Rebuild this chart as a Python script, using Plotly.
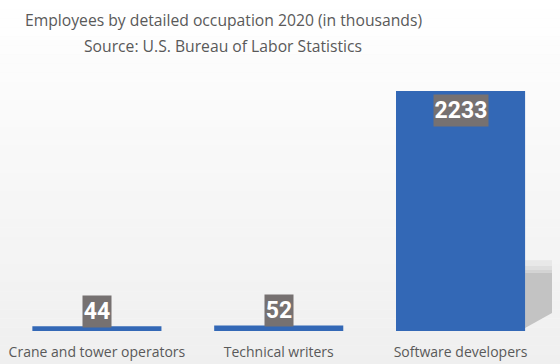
import plotly.graph_objects as go

categories = ["Crane and tower operators", "Technical writers", "Software developers"]
values = [44, 52, 2233]
title_line1 = "Employees by detailed occupation 2020 (in thousands)"
title_line2 = "Source: U.S. Bureau of Labor Statistics"

W, H = 560, 364
ML, MR, MT, MB = 6, 8, 60, 33
plot_h = H - MT - MB


def py(Y):
    # convert pixel y (from top) to paper coordinate
    return (H - MB - Y) / plot_h


fig = go.Figure()
fig.add_trace(go.Bar(
    x=categories, y=values,
    marker=dict(color="#3368b6", line=dict(width=0)),
    hoverinfo="x+y",
))

# background gradient bands
shapes = []
nb = 40
for i in range(nb):
    y0p = i * H / nb
    y1p = (i + 1) * H / nb
    t = (i + 0.5) / nb
    c = int(round(255 - 16 * t))
    shapes.append(dict(type="rect", xref="paper", yref="paper",
                       x0=-ML / (W - ML - MR), x1=1 + MR / (W - ML - MR),
                       y0=py(y0p), y1=py(y1p), fillcolor=f"rgb({c},{c},{c})",
                       line=dict(width=0), layer="below"))

# soft drop shadow to the right of the largest bar (decorative)
imax = values.index(max(values))
half = (1 - 0.29) / 2
sx0, sx1 = imax + half, imax + half + 0.148
vtop = max(values) * 0.242
for k, (f, col) in enumerate([(1.22, "#e8e8e8"), (1.12, "#dedede"), (1.05, "#d3d3d3")]):
    shapes.append(dict(type="rect", xref="x", yref="y", x0=sx0, x1=sx1,
                       y0=vtop, y1=vtop * f, fillcolor=col, line=dict(width=0), layer="below"))
shapes.append(dict(type="path", xref="x", yref="y",
                   path=f"M {sx0},{max(values)*0.0125} L {sx0},{vtop} L {sx1},{vtop} L {sx1},{max(values)*0.075} Z",
                   fillcolor="#c3c3c3", line=dict(width=0), layer="below"))

annotations = [
    dict(text=title_line1, xref="paper", yref="paper", x=(223 - ML) / (W - ML - MR), y=py(20),
         xanchor="center", yanchor="middle", showarrow=False,
         font=dict(family="Open Sans", size=15.7, color="#595959")),
    dict(text=title_line2, xref="paper", yref="paper", x=(223 - ML) / (W - ML - MR), y=py(46),
         xanchor="center", yanchor="middle", showarrow=False,
         font=dict(family="Open Sans", size=15.7, color="#595959")),
]
for cat, v in zip(categories, values):
    big = v > 1000
    label = str(v)
    annotations.append(dict(
        x=cat, y=v, xref="x", yref="y", text=f"<b>{label}</b>", showarrow=False,
        yanchor="top" if big else "bottom", yshift=-3 if big else -2,
        bgcolor="#767171", width=13 * len(label) + 2, height=31, borderpad=0,
        font=dict(family="Liberation Sans Narrow, Roboto", size=23, color="white"),
    ))

fig.update_layout(
    width=W, height=H,
    margin=dict(l=ML, r=MR, t=MT, b=MB, autoexpand=False),
    paper_bgcolor="#f8f8f8", plot_bgcolor="rgba(0,0,0,0)",
    bargap=0.29, showlegend=False,
    shapes=shapes, annotations=annotations,
    xaxis=dict(showgrid=False, showline=False, zeroline=False, automargin=False,
               ticks="outside", ticklen=8, tickcolor="rgba(0,0,0,0)",
               tickfont=dict(family="Open Sans", size=14, color="#595959")),
    yaxis=dict(range=[0, 2233 * plot_h / 240], visible=False, showgrid=False, zeroline=False),
)

fig.write_html("out.html", config={"displayModeBar": False},
               post_script="document.body.style.margin='0px';document.body.style.padding='0px';")
